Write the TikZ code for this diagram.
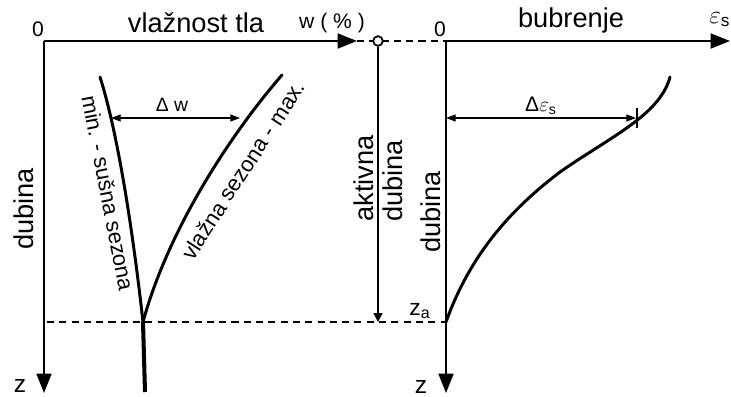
\documentclass[tikz,border=0pt]{standalone}
\usepackage{amsmath}
\usepackage{fontspec}
\setmainfont{Liberation Sans}
\usetikzlibrary{arrows.meta}

\begin{document}
\begin{tikzpicture}[
    x=0.02cm, y=-0.02cm,
    axis/.style={line width=1.1pt, -{Triangle[length=11pt,width=8.5pt]}},
    curve/.style={line width=1.7pt, line cap=round},
    dimline/.style={line width=0.6pt, {Triangle[length=5.5pt,width=4pt]}-{Triangle[length=5.5pt,width=4pt]}},
    guide/.style={line width=0.8pt, dash pattern=on 4pt off 3pt},
    lbl/.style={font=\fontsize{15.5}{18}\selectfont, inner sep=0pt},
    curvelbl/.style={font=\fontsize{12.5}{15}\selectfont, inner sep=0pt},
    small/.style={font=\fontsize{#1}{#1}\selectfont, inner sep=0pt}
]
\useasboundingbox (0,0) rectangle (731,396);

% axes
\coordinate (O1) at (44,41);
\coordinate (W1) at (357,41);
\coordinate (Z1) at (44,393);
\coordinate (O2) at (446,41);
\coordinate (E1) at (730,41);
\coordinate (Z2) at (446,393);
\draw[guide] (W1) -- (O2);
\draw[axis] (O1) -- (W1);
\draw[axis] (O1) -- (Z1);
\draw[axis] (O2) -- (E1);
\draw[axis] (O2) -- (Z2);

% active depth
\node[draw, circle, fill=white, line width=1pt, minimum size=5.5pt, inner sep=0pt] (A) at (378,41) {};
\coordinate (Za) at (378,322);
\draw[line width=0.8pt, -{Triangle[length=5pt,width=5pt]}] (A) -- (Za);
\coordinate (D1) at (47,322);
\draw[guide] (D1) -- (446,322);

% moisture curves
\coordinate (S) at (143,322);
\draw[curve] (100,77) .. controls (120,140) and (135,250) .. (S);
\draw[curve] (282,75) .. controls (230,135) and (168,230) .. (S);
\coordinate (Sb) at (145,392);
\draw[line width=2.3pt] (S) -- (Sb);
\coordinate (dw1) at (111,118);
\coordinate (dw2) at (240,118);
\draw[dimline] (dw1) -- (dw2);

% swelling curve
\coordinate (M) at (560,172);
\draw[curve] (446,322) .. controls (470,255) and (510,210) .. (M)
    .. controls (610,137) and (660,115) .. (670,77);
\coordinate (de1) at (446,118);
\coordinate (de2) at (636,118);
\draw[dimline] (de1) -- (de2);
\draw[line width=0.8pt] (637,108) -- (637,128);

% labels
\node[small=12, anchor=base] (n1) at (38,36) {0};
\node[small=12, anchor=base] (n2) at (440,36) {0};
\node[lbl, anchor=base] (moist) at (196,32) {vlažnost tla};
\node[small=12, anchor=base] (wpct) at (332,28) {w ( \% )};
\node[lbl, anchor=base] (swell) at (571,27) {bubrenje};
\node[inner sep=0pt, anchor=base west, font=\fontsize{14}{16}\selectfont] (eps) at (709,23) {$\varepsilon_{\text{s}}$};
\node[lbl, rotate=90, anchor=base west] (dep1) at (33,250) {dubina};
\node[lbl, rotate=90, anchor=base west] (dep2) at (440,253) {dubina};
\node[lbl, rotate=90, anchor=base west] (act1) at (373,222) {aktivna};
\node[lbl, rotate=90, anchor=base west] (act2) at (402,222) {dubina};
\node[small=14, anchor=base] (z1) at (20,392) {z};
\node[small=14, anchor=base] (z2) at (421,393) {z};
\node[small=13, anchor=base west] (za) at (409,315) {z\textsubscript{a}};
\node[small=11, anchor=base] (dwl) at (172,111) {Δ w};
\node[small=12, anchor=base] (del) at (541,111) {Δ$\varepsilon_{\text{s}}$};
\node[curvelbl, rotate=-79] (dry) at (108,193) {min. - sušna sezona};
\node[curvelbl, rotate=57] (wet) at (243,170) {vlažna sezona - max.};
\end{tikzpicture}
\end{document}
